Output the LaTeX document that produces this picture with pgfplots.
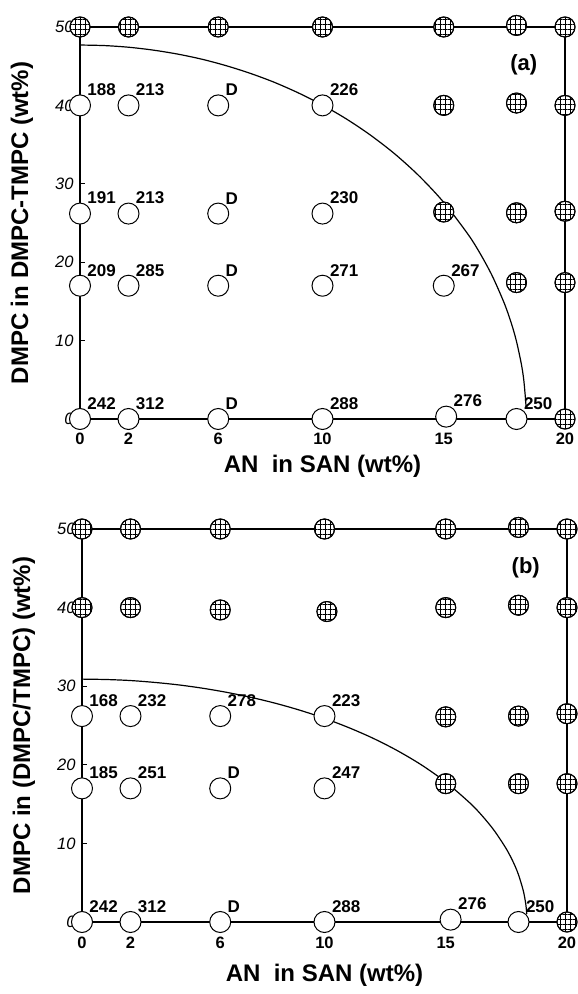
\documentclass[border=0pt]{standalone}
\usepackage{fontspec}
\setmainfont{Liberation Sans}
\usepackage{pgfplots}
\usepackage{pgfplotstable}
\pgfplotsset{compat=1.18}
\usetikzlibrary{patterns.meta}

\pgfplotstableread{
x y lab
0 40 188
2 40 213
5.7 40 D
10 40 226
0 26.2 191
2 26.2 213
5.7 26.2 D
10 26.2 230
0 17 209
2 17 285
5.7 17 D
10 17 271
15 17 267
0 0 242
2 0 312
5.7 0 D
10 0 288
15.1 0.3 276
18 0 250
}\openA

\pgfplotstableread{
x y
0 50
2 50
5.7 50
10 50
15 50
18 50.2
20 50
15 40
18 40.3
20 40
15 26.4
18 26.3
20 26.5
18 17.4
20 17.4
20 0
}\hatA

\pgfplotstableread{
x y lab
0 26.2 168
2 26.2 232
5.7 26.2 278
10 26.2 223
0 17 185
2 17 251
5.7 17 D
10 17 247
0 0 242
2 0 312
5.7 0 D
10 0 288
15.2 0.3 276
18 0 250
}\openB

\pgfplotstableread{
x y
0 50
2 50
5.7 50
10 50
15 50
18 50.2
20 50
0 40
2 40
5.7 39.7
10.1 39.5
15 40
18 40.3
20 40
15 26.1
18 26.2
20 26.5
15 17.6
18 17.6
20 17.6
20 0
}\hatB

\pgfplotsset{
  panel/.style={
    scale only axis, width=485pt,
    xmin=0, xmax=20, ymin=0, ymax=50,
    clip=false,
    axis line style={line width=1.1pt, black},
    xtick={0,2,5.7,10,15,20}, xticklabels={0,2,6,10,15,20},
    ytick={0,10,20,30,40,50}, yticklabels={0,10,20,30,40,50},
    x tick style={draw=none},
    y tick style={line width=0.8pt, black},
    tick align=inside, ytick pos=left, xtick pos=bottom,
    major tick length=5pt,
    xticklabel style={font=\fontsize{16.5}{16.5}\selectfont\bfseries, anchor=base, inner sep=0pt, yshift=-26pt},
    yticklabel style={font=\fontsize{16.5}{16.5}\selectfont\itshape, xshift=-3pt},
    xlabel style={font=\fontsize{24}{24}\selectfont\bfseries, anchor=center},
    ylabel style={font=\fontsize{24}{24}\selectfont\bfseries, at={(axis description cs:-0.1196,0.5)}, anchor=center},
  },
  openpts/.style={only marks, mark=*, mark size=10.5pt,
    mark options={draw=black, fill=white, line width=1pt},
    nodes near coords, point meta=explicit symbolic,
    every node near coord/.append style={anchor=south west, inner sep=0pt,
      xshift=7pt, yshift=9pt, font=\fontsize{17}{17}\selectfont\bfseries, text=black}},
  hatbg/.style={only marks, mark=*, mark size=10pt,
    mark options={draw=black, fill=white, line width=1pt}},
  hatfg/.style={only marks, mark=*, mark size=10pt,
    mark options={draw=black, line width=1pt,
      pattern={Hatch[angle=0, distance=5pt, line width=0.6pt]}}},
}

\begin{document}
\begin{tikzpicture}
\useasboundingbox (0pt,0pt) rectangle (578pt,994pt);
% panel (a)
\begin{axis}[panel, height=392pt, at={(80pt,575pt)}, anchor=south west,
  xlabel={AN\ \ in SAN (wt\%)},
  xlabel style={at={(axis description cs:0.5,-0.12)}},
  ylabel={DMPC in DMPC-TMPC (wt\%)}]
\addplot[openpts] table[x=x, y=y, meta=lab] {\openA};
\addplot[hatbg] table[x=x, y=y] {\hatA};
\addplot[hatfg] table[x=x, y=y] {\hatA};
\addplot[line width=1.2pt, black, smooth] coordinates {
(0,47.7) (1,47.63) (2,47.42) (3,47.06) (4,46.56) (5,45.91) (6,45.09) (7,44.11)
(8,42.96) (9,41.60) (10,40.04) (11,38.24) (12,36.16) (13,33.76) (14,30.95)
(15,27.63) (16,23.56) (16.5,21.11) (17,18.25) (17.5,14.73) (17.8,12.08)
(18,9.89) (18.2,7.01) (18.3,4.97) (18.38,2.22) (18.39,1.57)};
\node[font=\fontsize{22}{22}\selectfont\bfseries] at (axis cs:18.3,45.2) {(a)};
\end{axis}
% panel (b)
\begin{axis}[panel, height=393pt, at={(82pt,72pt)}, anchor=south west,
  xlabel={AN\ \ in SAN (wt\%)},
  xlabel style={at={(axis description cs:0.5,-0.135)}},
  ylabel={DMPC in (DMPC/TMPC) (wt\%)}]
\addplot[openpts] table[x=x, y=y, meta=lab] {\openB};
\addplot[hatbg] table[x=x, y=y] {\hatB};
\addplot[hatfg] table[x=x, y=y] {\hatB};
\addplot[line width=1.2pt, black, smooth] coordinates {
(0,30.9) (1,30.85) (2,30.72) (3,30.48) (4,30.16) (5,29.73) (6,29.20) (7,28.56)
(8,27.81) (9,26.93) (10,25.91) (11,24.73) (12,23.38) (13,21.81) (14,19.98)
(15,17.80) (16,15.13) (16.5,13.52) (17,11.63) (17.5,9.29) (17.8,7.51)
(18,6.01) (18.2,3.95) (18.3,2.28) (18.34,1.02)};
\node[font=\fontsize{22}{22}\selectfont\bfseries] at (axis cs:18.3,45.0) {(b)};
\end{axis}
\end{tikzpicture}
\end{document}
